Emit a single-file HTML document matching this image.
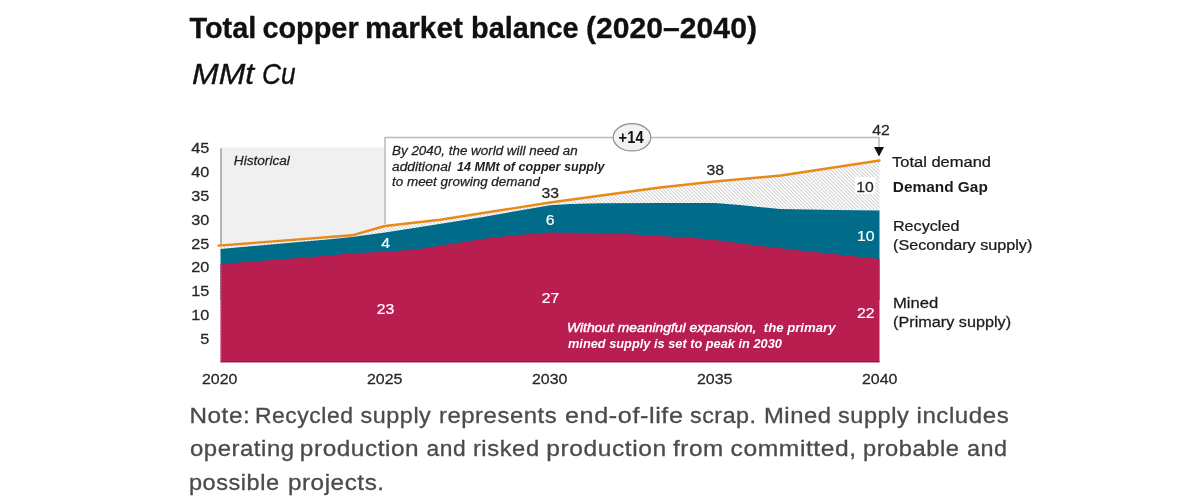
<!DOCTYPE html>
<html lang="en">
<head>
<meta charset="utf-8">
<title>Total copper market balance (2020–2040)</title>
<style>
html,body{margin:0;padding:0;background:#fff;}
body{width:1200px;height:500px;overflow:hidden;position:relative;font-family:"Liberation Sans",Arial,sans-serif;}
svg{position:absolute;left:0;top:0;display:block;}
text{font-family:"Liberation Sans",Arial,sans-serif;white-space:pre;}
</style>
</head>
<body>
<svg width="1200" height="500" viewBox="0 0 1200 500">
<defs>
<clipPath id="gapclip"><path d="M220.5,245.6 L352,235.3 L385,226 L418,222.3 L440,219.8 L550,202.5 L660,187.5 L715,181.5 L781,175.5 L879.5,160.5 L879.5,215 L220.5,255 Z"/></clipPath>
</defs>

<!-- historical background -->
<rect x="220" y="147.5" width="165" height="110" fill="#f0f0f0"/>
<rect x="220.2" y="148.5" width="1.6" height="100" fill="#a6a6a6"/>

<!-- demand gap hatch -->
<g clip-path="url(#gapclip)"><rect x="220" y="140" width="660" height="120" fill="#fff"/><path d="M110.0,140l115,115M113.6,140l115,115M117.2,140l115,115M120.8,140l115,115M124.4,140l115,115M128.0,140l115,115M131.6,140l115,115M135.2,140l115,115M138.8,140l115,115M142.4,140l115,115M146.0,140l115,115M149.6,140l115,115M153.2,140l115,115M156.8,140l115,115M160.4,140l115,115M164.0,140l115,115M167.6,140l115,115M171.2,140l115,115M174.8,140l115,115M178.4,140l115,115M182.0,140l115,115M185.6,140l115,115M189.2,140l115,115M192.8,140l115,115M196.4,140l115,115M200.0,140l115,115M203.6,140l115,115M207.2,140l115,115M210.8,140l115,115M214.4,140l115,115M218.0,140l115,115M221.6,140l115,115M225.2,140l115,115M228.8,140l115,115M232.4,140l115,115M236.0,140l115,115M239.6,140l115,115M243.2,140l115,115M246.8,140l115,115M250.4,140l115,115M254.0,140l115,115M257.6,140l115,115M261.2,140l115,115M264.8,140l115,115M268.4,140l115,115M272.0,140l115,115M275.6,140l115,115M279.2,140l115,115M282.8,140l115,115M286.4,140l115,115M290.0,140l115,115M293.6,140l115,115M297.2,140l115,115M300.8,140l115,115M304.4,140l115,115M308.0,140l115,115M311.6,140l115,115M315.2,140l115,115M318.8,140l115,115M322.4,140l115,115M326.0,140l115,115M329.6,140l115,115M333.2,140l115,115M336.8,140l115,115M340.4,140l115,115M344.0,140l115,115M347.6,140l115,115M351.2,140l115,115M354.8,140l115,115M358.4,140l115,115M362.0,140l115,115M365.6,140l115,115M369.2,140l115,115M372.8,140l115,115M376.4,140l115,115M380.0,140l115,115M383.6,140l115,115M387.2,140l115,115M390.8,140l115,115M394.4,140l115,115M398.0,140l115,115M401.6,140l115,115M405.2,140l115,115M408.8,140l115,115M412.4,140l115,115M416.0,140l115,115M419.6,140l115,115M423.2,140l115,115M426.8,140l115,115M430.4,140l115,115M434.0,140l115,115M437.6,140l115,115M441.2,140l115,115M444.8,140l115,115M448.4,140l115,115M452.0,140l115,115M455.6,140l115,115M459.2,140l115,115M462.8,140l115,115M466.4,140l115,115M470.0,140l115,115M473.6,140l115,115M477.2,140l115,115M480.8,140l115,115M484.4,140l115,115M488.0,140l115,115M491.6,140l115,115M495.2,140l115,115M498.8,140l115,115M502.4,140l115,115M506.0,140l115,115M509.6,140l115,115M513.2,140l115,115M516.8,140l115,115M520.4,140l115,115M524.0,140l115,115M527.6,140l115,115M531.2,140l115,115M534.8,140l115,115M538.4,140l115,115M542.0,140l115,115M545.6,140l115,115M549.2,140l115,115M552.8,140l115,115M556.4,140l115,115M560.0,140l115,115M563.6,140l115,115M567.2,140l115,115M570.8,140l115,115M574.4,140l115,115M578.0,140l115,115M581.6,140l115,115M585.2,140l115,115M588.8,140l115,115M592.4,140l115,115M596.0,140l115,115M599.6,140l115,115M603.2,140l115,115M606.8,140l115,115M610.4,140l115,115M614.0,140l115,115M617.6,140l115,115M621.2,140l115,115M624.8,140l115,115M628.4,140l115,115M632.0,140l115,115M635.6,140l115,115M639.2,140l115,115M642.8,140l115,115M646.4,140l115,115M650.0,140l115,115M653.6,140l115,115M657.2,140l115,115M660.8,140l115,115M664.4,140l115,115M668.0,140l115,115M671.6,140l115,115M675.2,140l115,115M678.8,140l115,115M682.4,140l115,115M686.0,140l115,115M689.6,140l115,115M693.2,140l115,115M696.8,140l115,115M700.4,140l115,115M704.0,140l115,115M707.6,140l115,115M711.2,140l115,115M714.8,140l115,115M718.4,140l115,115M722.0,140l115,115M725.6,140l115,115M729.2,140l115,115M732.8,140l115,115M736.4,140l115,115M740.0,140l115,115M743.6,140l115,115M747.2,140l115,115M750.8,140l115,115M754.4,140l115,115M758.0,140l115,115M761.6,140l115,115M765.2,140l115,115M768.8,140l115,115M772.4,140l115,115M776.0,140l115,115M779.6,140l115,115M783.2,140l115,115M786.8,140l115,115M790.4,140l115,115M794.0,140l115,115M797.6,140l115,115M801.2,140l115,115M804.8,140l115,115M808.4,140l115,115M812.0,140l115,115M815.6,140l115,115M819.2,140l115,115M822.8,140l115,115M826.4,140l115,115M830.0,140l115,115M833.6,140l115,115M837.2,140l115,115M840.8,140l115,115M844.4,140l115,115M848.0,140l115,115M851.6,140l115,115M855.2,140l115,115M858.8,140l115,115M862.4,140l115,115M866.0,140l115,115M869.6,140l115,115M873.2,140l115,115M876.8,140l115,115M880.4,140l115,115" stroke="#d2d2d2" stroke-width="1.05" fill="none"/></g>

<!-- recycled (secondary supply) -->
<path fill="#006c8a" d="M220.5,249 L330,239.2 L352,237 L385,232.5 L433,225 L480,217.5 L540,207 L550,205.3 L570,204 L600,203.3 L660,203 L715,203 L740,205 L770,208 L780,209 L835,210 L879.5,210.5 L879.5,300 L220.5,300 Z"/>
<!-- mined (primary supply) -->
<path fill="#b81f50" d="M220.5,264 L330,255.5 L352,253.2 L385,251.7 L418,249.2 L484,238.7 L517,234.9 L550,232.5 L620,233.5 L660,236 L700,238.5 L715,240 L760,246 L879.5,259 L879.5,362.3 L220.5,362.3 Z"/>

<rect x="220.5" y="361.2" width="659" height="1.1" fill="#8f1840"/>
<line x1="221.2" y1="266" x2="221.2" y2="361" stroke="#d06a8c" stroke-width="1" stroke-dasharray="1.3 1.7"/>
<!-- bracket -->
<path d="M385,224 L385,137.4 L879,137.4 L879,148" fill="none" stroke="#b9b9b9" stroke-width="1.5"/>
<polygon points="874,147 884,147 879,156.4" fill="#111"/>
<ellipse cx="632" cy="137.3" rx="18.8" ry="13.6" fill="#f2f2f2" stroke="#8c8c8c" stroke-width="1.2"/>
<text transform="translate(618.60,142.9) scale(0.9214,1)" font-size="16" fill="#111" font-weight="bold">+14</text>

<!-- total demand line -->
<polyline fill="none" stroke="#e8891a" stroke-width="2.4" stroke-linejoin="round" stroke-linecap="round" points="218.5,245.6 352,235.3 385,226 418,222.3 440,219.8 550,202.5 660,187.5 715,181.5 781,175.5 879.5,160.5"/>

<rect x="855" y="177" width="20.5" height="17" fill="#fff"/>

<!-- title -->
<text transform="translate(189.40,38.3) scale(0.9665,1)" font-size="29.9" fill="#101010" font-weight="bold" stroke="#101010" stroke-width="0.3">Total</text>
<text transform="translate(262.43,38.3) scale(0.9654,1)" font-size="29.9" fill="#101010" font-weight="bold" stroke="#101010" stroke-width="0.3">copper</text>
<text transform="translate(365.00,38.3) scale(0.9992,1)" font-size="29.9" fill="#101010" font-weight="bold" stroke="#101010" stroke-width="0.3">market</text>
<text transform="translate(471.03,38.3) scale(0.9663,1)" font-size="29.9" fill="#101010" font-weight="bold" stroke="#101010" stroke-width="0.3">balance</text>
<text transform="translate(585.99,38.3) scale(1.0085,1)" font-size="29.9" fill="#101010" font-weight="bold" stroke="#101010" stroke-width="0.3">(2020–2040)</text>
<text transform="translate(192.00,84.1) scale(1.0703,1)" font-size="29.9" fill="#101010" font-style="italic" stroke="#101010" stroke-width="0.35">MMt</text>
<text transform="translate(262.12,84.1) scale(0.8780,1)" font-size="29.9" fill="#101010" font-style="italic" stroke="#101010" stroke-width="0.35">Cu</text>

<!-- y axis -->
<text transform="translate(191.30,153.4) scale(1.0700,1)" font-size="15.2" fill="#262626" stroke="#262626" stroke-width="0.25">45</text>
<text transform="translate(191.30,177.2) scale(1.0700,1)" font-size="15.2" fill="#262626" stroke="#262626" stroke-width="0.25">40</text>
<text transform="translate(191.30,201.0) scale(1.0700,1)" font-size="15.2" fill="#262626" stroke="#262626" stroke-width="0.25">35</text>
<text transform="translate(191.30,224.8) scale(1.0700,1)" font-size="15.2" fill="#262626" stroke="#262626" stroke-width="0.25">30</text>
<text transform="translate(191.30,248.6) scale(1.0700,1)" font-size="15.2" fill="#262626" stroke="#262626" stroke-width="0.25">25</text>
<text transform="translate(191.30,272.4) scale(1.0700,1)" font-size="15.2" fill="#262626" stroke="#262626" stroke-width="0.25">20</text>
<text transform="translate(191.30,296.2) scale(1.0700,1)" font-size="15.2" fill="#262626" stroke="#262626" stroke-width="0.25">15</text>
<text transform="translate(191.30,320.0) scale(1.0700,1)" font-size="15.2" fill="#262626" stroke="#262626" stroke-width="0.25">10</text>
<text transform="translate(200.34,343.8) scale(1.0700,1)" font-size="15.2" fill="#262626" stroke="#262626" stroke-width="0.25">5</text>
<!-- x axis -->
<text transform="translate(202.00,384.2) scale(1.0500,1)" font-size="15.2" fill="#262626" stroke="#262626" stroke-width="0.25">2020</text>
<text transform="translate(367.00,384.2) scale(1.0500,1)" font-size="15.2" fill="#262626" stroke="#262626" stroke-width="0.25">2025</text>
<text transform="translate(532.00,384.2) scale(1.0500,1)" font-size="15.2" fill="#262626" stroke="#262626" stroke-width="0.25">2030</text>
<text transform="translate(697.00,384.2) scale(1.0500,1)" font-size="15.2" fill="#262626" stroke="#262626" stroke-width="0.25">2035</text>
<text transform="translate(861.90,384.2) scale(1.0500,1)" font-size="15.2" fill="#262626" stroke="#262626" stroke-width="0.25">2040</text>
<!-- value labels -->
<text transform="translate(541.45,197.6) scale(1.0400,1)" font-size="15.2" fill="#262626" stroke="#262626" stroke-width="0.25">33</text>
<text transform="translate(706.45,175.0) scale(1.0400,1)" font-size="15.2" fill="#262626" stroke="#262626" stroke-width="0.25">38</text>
<text transform="translate(872.15,135.2) scale(1.0400,1)" font-size="15.2" fill="#262626" stroke="#262626" stroke-width="0.25">42</text>
<text transform="translate(856.13,191.5) scale(1.0400,1)" font-size="15.2" fill="#262626" stroke="#262626" stroke-width="0.25">10</text>
<text transform="translate(381.14,247.6) scale(1.0400,1)" font-size="15.2" fill="#fff" stroke="#fff" stroke-width="0.2">4</text>
<text transform="translate(545.84,224.6) scale(1.0400,1)" font-size="15.2" fill="#fff" stroke="#fff" stroke-width="0.2">6</text>
<text transform="translate(857.03,240.8) scale(1.0400,1)" font-size="15.2" fill="#fff" stroke="#fff" stroke-width="0.2">10</text>
<text transform="translate(376.65,313.8) scale(1.0400,1)" font-size="15.2" fill="#fff" stroke="#fff" stroke-width="0.2">23</text>
<text transform="translate(541.75,303.0) scale(1.0400,1)" font-size="15.2" fill="#fff" stroke="#fff" stroke-width="0.2">27</text>
<text transform="translate(856.95,317.9) scale(1.0400,1)" font-size="15.2" fill="#fff" stroke="#fff" stroke-width="0.2">22</text>

<!-- annotations -->
<text transform="translate(233.80,164.7) scale(1.0104,1)" font-size="13.5" fill="#222" font-style="italic" stroke="#222" stroke-width="0.25">Historical</text>
<text transform="translate(392.00,155) scale(0.9949,1)" font-size="13.5" fill="#222" font-style="italic" stroke="#222" stroke-width="0.25">By 2040, the world will need an</text>
<text transform="translate(392.00,170.7) scale(1.0204,1)" font-size="13.5" fill="#222" font-style="italic" stroke="#222" stroke-width="0.25">additional</text>
<text transform="translate(457.00,170.7) scale(0.9327,1)" font-size="13.5" fill="#222" font-weight="bold" font-style="italic">14 MMt of copper supply</text>
<text transform="translate(392.00,186.2) scale(0.9961,1)" font-size="13.5" fill="#222" font-style="italic" stroke="#222" stroke-width="0.25">to meet growing demand</text>
<text transform="translate(566.97,331.9) scale(1.0288,1)" font-size="13.5" fill="#fff" font-style="italic" stroke="#fff" stroke-width="0.45">Without meaningful expansion,</text>
<text transform="translate(763.75,331.9) scale(0.9764,1)" font-size="13.5" fill="#fff" font-weight="bold" font-style="italic">the primary</text>
<text transform="translate(568.00,347.9) scale(0.9478,1)" font-size="13.5" fill="#fff" font-weight="bold" font-style="italic">mined supply is set to peak in 2030</text>

<!-- series labels -->
<text transform="translate(892.00,166.9) scale(1.0856,1)" font-size="15.2" fill="#1a1a1a" stroke="#1a1a1a" stroke-width="0.25">Total demand</text>
<text transform="translate(892.79,192) scale(1.0141,1)" font-size="15.2" fill="#1a1a1a" font-weight="bold">Demand Gap</text>
<text transform="translate(892.93,230.7) scale(1.0653,1)" font-size="15.2" fill="#1a1a1a" stroke="#1a1a1a" stroke-width="0.25">Recycled</text>
<text transform="translate(893.00,250.4) scale(1.0651,1)" font-size="15.2" fill="#1a1a1a" stroke="#1a1a1a" stroke-width="0.25">(Secondary supply)</text>
<text transform="translate(892.91,307.7) scale(1.0947,1)" font-size="15.2" fill="#1a1a1a" stroke="#1a1a1a" stroke-width="0.25">Mined</text>
<text transform="translate(893.00,327) scale(1.0680,1)" font-size="15.2" fill="#1a1a1a" stroke="#1a1a1a" stroke-width="0.25">(Primary supply)</text>

<!-- note -->
<text transform="translate(189.48,422.8) scale(1.1238,1)" font-size="21.6" fill="#4b4b4b" letter-spacing="0.5" stroke="#4b4b4b" stroke-width="0.3">Note:</text>
<text transform="translate(254.94,422.8) scale(1.0631,1)" font-size="21.6" fill="#4b4b4b" letter-spacing="0.5" stroke="#4b4b4b" stroke-width="0.3">Recycled</text>
<text transform="translate(360.60,422.8) scale(1.0810,1)" font-size="21.6" fill="#4b4b4b" letter-spacing="0.5" stroke="#4b4b4b" stroke-width="0.3">supply</text>
<text transform="translate(438.89,422.8) scale(1.1066,1)" font-size="21.6" fill="#4b4b4b" letter-spacing="0.5" stroke="#4b4b4b" stroke-width="0.3">represents</text>
<text transform="translate(565.00,422.8) scale(1.1682,1)" font-size="21.6" fill="#4b4b4b" letter-spacing="0.5" stroke="#4b4b4b" stroke-width="0.3">end-of-life</text>
<text transform="translate(690.00,422.8) scale(1.0779,1)" font-size="21.6" fill="#4b4b4b" letter-spacing="0.5" stroke="#4b4b4b" stroke-width="0.3">scrap.</text>
<text transform="translate(763.89,422.8) scale(1.1054,1)" font-size="21.6" fill="#4b4b4b" letter-spacing="0.5" stroke="#4b4b4b" stroke-width="0.3">Mined</text>
<text transform="translate(838.00,422.8) scale(1.0903,1)" font-size="21.6" fill="#4b4b4b" letter-spacing="0.5" stroke="#4b4b4b" stroke-width="0.3">supply</text>
<text transform="translate(916.48,422.8) scale(1.1156,1)" font-size="21.6" fill="#4b4b4b" letter-spacing="0.5" stroke="#4b4b4b" stroke-width="0.3">includes</text>
<text transform="translate(190.00,456.2) scale(1.1071,1)" font-size="21.6" fill="#4b4b4b" letter-spacing="0.5" stroke="#4b4b4b" stroke-width="0.3">operating</text>
<text transform="translate(299.87,456.2) scale(1.1274,1)" font-size="21.6" fill="#4b4b4b" letter-spacing="0.5" stroke="#4b4b4b" stroke-width="0.3">production</text>
<text transform="translate(426.60,456.2) scale(1.0550,1)" font-size="21.6" fill="#4b4b4b" letter-spacing="0.5" stroke="#4b4b4b" stroke-width="0.3">and</text>
<text transform="translate(472.90,456.2) scale(1.1017,1)" font-size="21.6" fill="#4b4b4b" letter-spacing="0.5" stroke="#4b4b4b" stroke-width="0.3">risked</text>
<text transform="translate(546.26,456.2) scale(1.1381,1)" font-size="21.6" fill="#4b4b4b" letter-spacing="0.5" stroke="#4b4b4b" stroke-width="0.3">production</text>
<text transform="translate(673.00,456.2) scale(1.1213,1)" font-size="21.6" fill="#4b4b4b" letter-spacing="0.5" stroke="#4b4b4b" stroke-width="0.3">from</text>
<text transform="translate(730.60,456.2) scale(1.1403,1)" font-size="21.6" fill="#4b4b4b" letter-spacing="0.5" stroke="#4b4b4b" stroke-width="0.3">committed,</text>
<text transform="translate(862.90,456.2) scale(1.0978,1)" font-size="21.6" fill="#4b4b4b" letter-spacing="0.5" stroke="#4b4b4b" stroke-width="0.3">probable</text>
<text transform="translate(967.00,456.2) scale(1.0828,1)" font-size="21.6" fill="#4b4b4b" letter-spacing="0.5" stroke="#4b4b4b" stroke-width="0.3">and</text>
<text transform="translate(188.91,489.6) scale(1.0891,1)" font-size="21.6" fill="#4b4b4b" letter-spacing="0.5" stroke="#4b4b4b" stroke-width="0.3">possible</text>
<text transform="translate(287.88,489.6) scale(1.1243,1)" font-size="21.6" fill="#4b4b4b" letter-spacing="0.5" stroke="#4b4b4b" stroke-width="0.3">projects.</text>

</svg>
</body>
</html>
